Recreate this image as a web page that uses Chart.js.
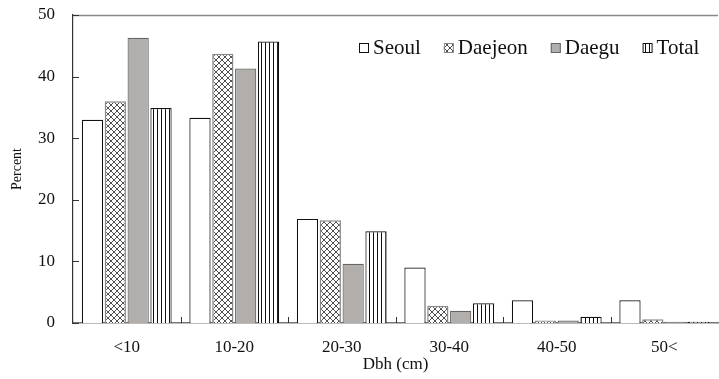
<!DOCTYPE html>
<html>
<head>
<meta charset="utf-8">
<script src="https://cdn.jsdelivr.net/npm/chart.js@4"></script>
<style>
  body { margin: 0; background: #fff; }
  canvas { display: block; }
</style>
</head>
<body>
<canvas id="dbhChart" width="719" height="379"></canvas>
<script>
const classes = ['<10', '10-20', '20-30', '30-40', '40-50', '50<'];
const seoul   = [33.0, 33.3, 16.9, 9.0, 3.7, 3.7];
const daejeon = [36.0, 43.7, 16.7, 2.8, 0.4, 0.6];
const daegu   = [46.3, 41.3, 9.6, 2.0, 0.4, 0.2];
const total   = [34.9, 45.7, 14.9, 3.2, 1.0, 0.2];
const yTicks  = [0, 10, 20, 30, 40, 50];

const serif = '"Liberation Serif", "Times New Roman", serif';

// cross-hatched fill
function crossPattern() {
    const c = document.createElement('canvas');
    c.width = 6; c.height = 6;
    const g = c.getContext('2d');
    g.fillStyle = '#fff';
    g.fillRect(0, 0, 6, 6);
    g.strokeStyle = '#222';
    g.lineWidth = 0.8;
    g.beginPath();
    g.moveTo(0, 0); g.lineTo(6, 6);
    g.moveTo(6, 0); g.lineTo(0, 6);
    g.stroke();
    return g.createPattern(c, 'repeat');
}

// vertical stripes fill
function stripePattern() {
    const c = document.createElement('canvas');
    c.width = 4; c.height = 4;
    const g = c.getContext('2d');
    g.fillStyle = '#fff';
    g.fillRect(0, 0, 4, 4);
    g.fillStyle = '#111';
    g.fillRect(1, 0, 1, 4);
    return g.createPattern(c, 'repeat');
}

// inward tick marks, top frame line and the legend row inside the plot
const frameAndLegend = {
    id: 'frameAndLegend',
    afterDatasetsDraw(chart) {
        const { ctx, chartArea: area, scales: { x, y } } = chart;
        const step = x.getPixelForValue(1) - x.getPixelForValue(0);
        ctx.save();

        ctx.strokeStyle = '#888';
        ctx.lineWidth = 1.5;
        ctx.beginPath();
        ctx.moveTo(area.left, area.top + 0.5);
        ctx.lineTo(area.right, area.top + 0.5);
        ctx.stroke();

        ctx.strokeStyle = '#333';
        ctx.lineWidth = 1;
        ctx.beginPath();
        for (let i = 1; i < classes.length; i++) {
            const px = Math.round(x.getPixelForValue(i) - step / 2) + 0.5;
            ctx.moveTo(px, area.bottom);
            ctx.lineTo(px, area.bottom - 6);
        }
        yTicks.forEach(v => {
            const py = Math.round(y.getPixelForValue(v)) + 0.5;
            ctx.moveTo(area.left, py);
            ctx.lineTo(area.left + 6, py);
        });
        ctx.stroke();

        // legend
        ctx.font = Chart.helpers.toFont({ family: serif, size: 21 }).string;
        ctx.textBaseline = 'middle';
        ctx.textAlign = 'left';
        const sets = chart.data.datasets;
        const boxGap = 4, itemGap = 23, box = 10;
        let width = 0;
        sets.forEach((ds, i) => {
            width += box + boxGap + ctx.measureText(ds.label).width + (i ? itemGap : 0);
        });
        let lx = Math.round(area.right - 19 - width);
        const ly = 48;
        sets.forEach(ds => {
            ctx.fillStyle = ds.backgroundColor;
            ctx.fillRect(lx, ly - box / 2, box, box);
            ctx.strokeStyle = ds.borderColor;
            ctx.lineWidth = 1;
            ctx.strokeRect(lx + 0.5, ly - box / 2 + 0.5, box - 1, box - 1);
            lx += box + boxGap;
            ctx.fillStyle = '#111';
            ctx.fillText(ds.label, lx, ly);
            lx += ctx.measureText(ds.label).width + itemGap;
        });
        ctx.restore();
    }
};

const common = { barPercentage: 0.93, categoryPercentage: 0.85, borderSkipped: 'bottom' };

new Chart(document.getElementById('dbhChart'), {
    type: 'bar',
    data: {
        labels: classes,
        datasets: [
            { label: 'Seoul', data: seoul, backgroundColor: '#fff', borderColor: '#111', borderWidth: 1.2, ...common },
            { label: 'Daejeon', data: daejeon, backgroundColor: crossPattern(), borderColor: '#888', borderWidth: 1.5, ...common },
            { label: 'Daegu', data: daegu, backgroundColor: '#b1aeac', borderColor: '#666', borderWidth: 1.2, ...common },
            { label: 'Total', data: total, backgroundColor: stripePattern(), borderColor: '#111', borderWidth: 1.2, ...common }
        ]
    },
    options: {
        responsive: false,
        animation: false,
        layout: { padding: { top: 15, right: 1, left: 0, bottom: 0 } },
        plugins: {
            legend: { display: false },
            tooltip: { enabled: false }
        },
        scales: {
            x: {
                grid: { display: false, drawTicks: false },
                border: { color: '#777', width: 1.5 },
                ticks: { color: '#111', padding: 16, font: { family: serif, size: 17, lineHeight: 1 } },
                title: { display: true, text: 'Dbh (cm)', color: '#111', padding: { top: 0, bottom: 6 }, font: { family: serif, size: 17, lineHeight: 1 } },
                afterFit: scale => {
                    scale.height = 56;
                    scale.paddingLeft = 0;
                    scale.paddingRight = 0;
                }
            },
            y: {
                min: 0,
                max: 50,
                afterBuildTicks: axis => { axis.ticks = yTicks.map(v => ({ value: v })); },
                grid: { display: false, drawTicks: false },
                border: { color: '#333', width: 1.2 },
                ticks: { color: '#111', padding: 18, font: { family: serif, size: 17, lineHeight: 1 } },
                title: { display: true, text: 'Percent', color: '#111', padding: { top: 10, bottom: 0 }, font: { family: serif, size: 14, lineHeight: 1 } },
                afterFit: scale => {
                    scale.width = 73;
                    scale.paddingTop = 0;
                    scale.paddingBottom = 0;
                }
            }
        }
    },
    plugins: [frameAndLegend]
});
</script>
</body>
</html>
